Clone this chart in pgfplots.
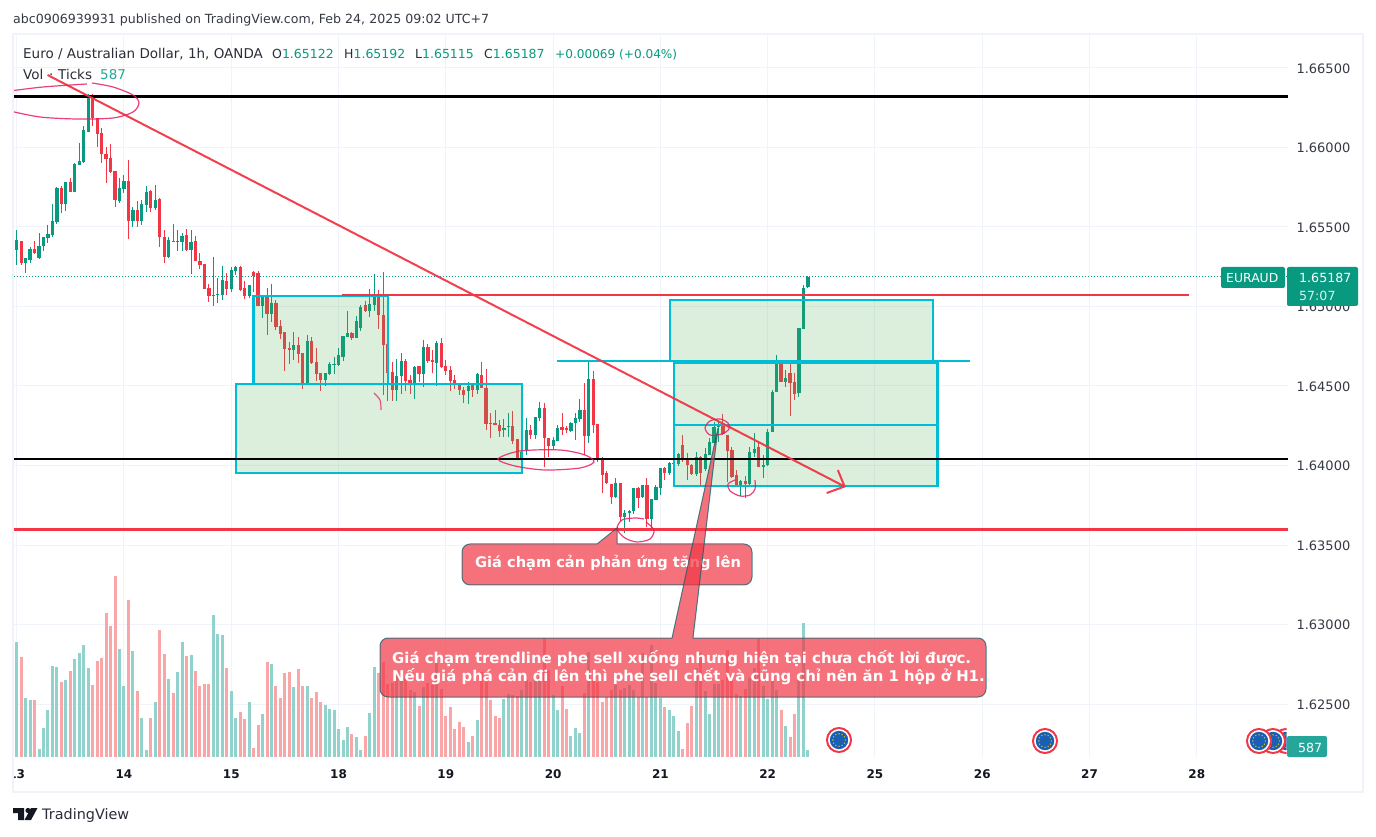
\documentclass[border=0pt]{standalone}
\usepackage{fontspec}
\setmainfont{DejaVu Sans}
\usepackage{pgfplots}
\usepackage{pgfplotstable}
\pgfplotsset{compat=1.18}
\definecolor{up}{HTML}{089981}
\definecolor{dn}{HTML}{F23645}
\definecolor{volup}{HTML}{92D2CC}
\definecolor{voldn}{HTML}{F9A6A9}
\definecolor{gridc}{HTML}{F0F3FA}
\definecolor{boxc}{HTML}{00BCD4}
\definecolor{boxf}{HTML}{4CAF50}
\definecolor{ink}{HTML}{131722}
\definecolor{pinkc}{HTML}{E91E63}
\definecolor{lastvol}{HTML}{26A69A}
\pgfplotstableread{
n bot top low high
-25 1.65331 1.65366 1.65331 1.65366
-24 1.65356 1.65419 1.65262 1.65482
-22 1.65276 1.65308 1.65213 1.65308
-21 1.65293 1.65360 1.65272 1.65377
-19 1.65308 1.65381 1.65304 1.65461
-18 1.65381 1.65436 1.65346 1.65436
-17 1.65431 1.65457 1.65402 1.65513
-16 1.65450 1.65540 1.65440 1.65645
-15 1.65532 1.65748 1.65519 1.65754
-13 1.65645 1.65781 1.65603 1.65781
-11 1.65723 1.65897 1.65723 1.65905
-10 1.65890 1.65914 1.65890 1.66027
-9 1.65907 1.66111 1.65901 1.66136
-8 1.66100 1.66310 1.66100 1.66335
-1 1.65662 1.65744 1.65649 1.65807
0 1.65740 1.65790 1.65712 1.65828
2 1.65540 1.65608 1.65503 1.65628
4 1.65540 1.65645 1.65513 1.65670
5 1.65639 1.65723 1.65597 1.65758
7 1.65618 1.65670 1.65608 1.65765
10 1.65310 1.65419 1.65304 1.65436
12 1.65408 1.65415 1.65352 1.65482
13 1.65408 1.65446 1.65352 1.65461
15 1.65356 1.65408 1.65205 1.65482
20 1.65069 1.65075 1.65000 1.65310
21 1.65073 1.65079 1.65025 1.65178
22 1.65073 1.65167 1.65042 1.65255
24 1.65111 1.65230 1.65094 1.65251
25 1.65225 1.65246 1.65198 1.65254
28 1.65066 1.65135 1.65051 1.65135
31 1.65005 1.65068 1.64929 1.65068
33 1.64952 1.65022 1.64904 1.65141
38 1.64726 1.64757 1.64663 1.64837
41 1.64506 1.64783 1.64506 1.64820
45 1.64537 1.64581 1.64500 1.64581
46 1.64575 1.64636 1.64569 1.64651
47 1.64632 1.64636 1.64573 1.64680
48 1.64632 1.64693 1.64625 1.64737
49 1.64682 1.64814 1.64657 1.64814
50 1.64806 1.64831 1.64806 1.64971
52 1.64802 1.64908 1.64802 1.64940
53 1.64862 1.64996 1.64848 1.65009
55 1.64971 1.65015 1.64931 1.65110
56 1.65009 1.65068 1.64971 1.65204
61 1.64475 1.64563 1.64405 1.64667
62 1.64563 1.64657 1.64449 1.64705
65 1.64510 1.64619 1.64418 1.64625
67 1.64575 1.64745 1.64495 1.64789
70 1.64644 1.64770 1.64500 1.64783
77 1.64468 1.64500 1.64387 1.64525
79 1.64475 1.64575 1.64449 1.64579
85 1.64223 1.64236 1.64181 1.64290
86 1.64244 1.64248 1.64181 1.64328
89 1.64041 1.64087 1.64013 1.64118
90 1.64097 1.64223 1.64066 1.64296
92 1.64192 1.64303 1.64166 1.64303
93 1.64299 1.64359 1.64280 1.64397
96 1.64122 1.64160 1.64101 1.64177
97 1.64156 1.64234 1.64156 1.64254
100 1.64219 1.64265 1.64213 1.64275
101 1.64265 1.64296 1.64160 1.64328
102 1.64290 1.64349 1.64275 1.64416
104 1.64187 1.64542 1.64143 1.64659
110 1.63804 1.63888 1.63793 1.63919
112 1.63678 1.63699 1.63578 1.63720
113 1.63699 1.63712 1.63647 1.63720
114 1.63714 1.63856 1.63693 1.63856
116 1.63804 1.63877 1.63793 1.63877
118 1.63666 1.63787 1.63594 1.63787
119 1.63783 1.63863 1.63783 1.63877
120 1.63860 1.63982 1.63814 1.63982
122 1.63951 1.64013 1.63940 1.64024
123 1.64009 1.64013 1.63992 1.64024
124 1.64009 1.64070 1.63997 1.64076
128 1.63946 1.64055 1.63934 1.64087
130 1.63976 1.64070 1.63967 1.64108
131 1.64066 1.64146 1.64066 1.64171
132 1.64139 1.64244 1.64139 1.64275
133 1.64240 1.64261 1.64150 1.64275
138 1.63871 1.63904 1.63808 1.63909
140 1.63884 1.64085 1.63867 1.64118
141 1.64076 1.64104 1.64055 1.64202
143 1.63992 1.64003 1.63919 1.64066
144 1.64003 1.64213 1.63997 1.64227
145 1.64213 1.64464 1.64213 1.64475
146 1.64464 1.64653 1.64464 1.64695
148 1.64527 1.64548 1.64496 1.64600
151 1.64454 1.64862 1.64433 1.64862
152 1.64858 1.65114 1.64858 1.65135
153 1.65122 1.65187 1.65115 1.65192
}\upcandles
\pgfplotstableread{
n bot top low high
-23 1.65276 1.65415 1.65262 1.65415
-20 1.65339 1.65360 1.65331 1.65415
-14 1.65645 1.65744 1.65587 1.65758
-12 1.65723 1.65781 1.65723 1.65807
-7 1.66184 1.66310 1.66132 1.66335
-6 1.66085 1.66184 1.66006 1.66184
-5 1.65960 1.66090 1.65905 1.66121
-4 1.65928 1.65960 1.65779 1.66006
-3 1.65846 1.65934 1.65838 1.66023
-2 1.65670 1.65851 1.65628 1.65851
1 1.65540 1.65790 1.65427 1.65922
3 1.65540 1.65608 1.65503 1.65664
6 1.65618 1.65729 1.65597 1.65733
8 1.65436 1.65679 1.65377 1.65685
9 1.65310 1.65436 1.65276 1.65482
11 1.65410 1.65415 1.65408 1.65519
14 1.65356 1.65450 1.65352 1.65486
16 1.65289 1.65415 1.65289 1.65444
17 1.65262 1.65289 1.65234 1.65335
18 1.65111 1.65268 1.65111 1.65268
19 1.65063 1.65117 1.65031 1.65140
23 1.65113 1.65161 1.65073 1.65209
26 1.65103 1.65250 1.65099 1.65254
27 1.65066 1.65116 1.65045 1.65160
29 1.65193 1.65214 1.65093 1.65223
30 1.65005 1.65208 1.65005 1.65223
32 1.64952 1.65068 1.64820 1.65114
34 1.64873 1.65022 1.64852 1.65040
35 1.64827 1.64877 1.64795 1.64915
36 1.64734 1.64837 1.64596 1.64837
37 1.64726 1.64739 1.64638 1.64774
39 1.64701 1.64757 1.64642 1.64808
40 1.64506 1.64709 1.64481 1.64709
42 1.64646 1.64783 1.64638 1.64806
43 1.64575 1.64651 1.64533 1.64739
44 1.64537 1.64581 1.64468 1.64581
51 1.64802 1.64833 1.64789 1.64839
54 1.64971 1.65007 1.64967 1.65032
57 1.64946 1.65068 1.64858 1.65103
58 1.64757 1.64946 1.64443 1.65217
59 1.64579 1.64764 1.64407 1.64789
60 1.64475 1.64588 1.64407 1.64651
63 1.64533 1.64657 1.64470 1.64669
64 1.64510 1.64537 1.64449 1.64569
66 1.64575 1.64625 1.64527 1.64625
68 1.64657 1.64745 1.64644 1.64764
69 1.64651 1.64663 1.64579 1.64726
71 1.64619 1.64770 1.64617 1.64799
72 1.64594 1.64625 1.64569 1.64663
73 1.64531 1.64600 1.64470 1.64625
74 1.64512 1.64537 1.64479 1.64569
75 1.64475 1.64512 1.64443 1.64517
76 1.64443 1.64475 1.64391 1.64495
78 1.64475 1.64504 1.64433 1.64512
80 1.64487 1.64569 1.64487 1.64651
81 1.64261 1.64487 1.64223 1.64607
82 1.64261 1.64267 1.64173 1.64328
83 1.64254 1.64267 1.64254 1.64349
84 1.64217 1.64254 1.64181 1.64286
87 1.64154 1.64248 1.64135 1.64342
88 1.64041 1.64166 1.64034 1.64166
91 1.64192 1.64223 1.64164 1.64254
94 1.64175 1.64359 1.63992 1.64391
95 1.64122 1.64171 1.64055 1.64171
98 1.64223 1.64240 1.64192 1.64328
99 1.64223 1.64234 1.64206 1.64248
103 1.64187 1.64349 1.64066 1.64517
105 1.64254 1.64542 1.64202 1.64594
106 1.64039 1.64259 1.64024 1.64259
107 1.63940 1.64043 1.63829 1.64055
108 1.63888 1.63951 1.63884 1.63967
109 1.63804 1.63884 1.63756 1.63884
111 1.63678 1.63888 1.63647 1.63888
115 1.63793 1.63856 1.63730 1.63867
117 1.63666 1.63877 1.63615 1.63919
121 1.63955 1.63984 1.63909 1.63992
125 1.64034 1.64127 1.64024 1.64192
126 1.64003 1.64039 1.63909 1.64076
127 1.63946 1.64003 1.63940 1.64009
129 1.63955 1.64055 1.63877 1.64060
134 1.64196 1.64254 1.64192 1.64324
135 1.64091 1.64192 1.63898 1.64192
136 1.63930 1.64097 1.63925 1.64118
137 1.63871 1.63940 1.63867 1.63971
139 1.63884 1.63904 1.63793 1.63934
142 1.63992 1.64114 1.63992 1.64150
147 1.64527 1.64659 1.64527 1.64663
149 1.64517 1.64579 1.64311 1.64653
150 1.64449 1.64523 1.64412 1.64579
}\downcandles
\pgfplotstableread{
n v
-25 10248
-24 9660
-22 4956
-21 4788
-19 672
-18 2436
-17 3948
-16 7644
-15 7560
-13 6468
-11 8232
-10 8736
-9 9408
-8 7476
-1 9072
0 5964
2 8904
4 3276
5 588
7 4620
10 6552
12 7140
13 9660
15 8568
20 11928
21 10332
22 10248
24 5544
25 3276
28 4620
31 3612
33 7812
38 5880
41 5964
45 4368
46 4032
47 3948
48 2352
49 1428
50 2520
52 1680
53 588
55 3696
56 7560
61 6888
62 6552
65 5460
67 5880
70 8148
77 1260
79 3108
85 4872
86 5292
89 5628
90 6468
92 6608
93 6748
96 5208
97 3948
100 1764
101 2436
102 2016
104 8848
110 6132
112 5796
113 6048
114 5628
116 8708
118 9380
119 6188
120 4984
122 3948
123 3444
124 2184
128 7448
130 5544
131 3612
132 6132
133 6132
138 5124
140 6608
141 7448
143 5964
144 4872
145 6468
146 5628
148 2604
151 6468
152 11256
153 587
}\upvol
\pgfplotstableread{
n v
-23 8400
-20 4788
-14 6300
-12 7224
-7 6048
-6 8064
-5 8316
-4 12096
-3 11004
-2 15204
1 13188
3 5544
6 3276
8 10668
9 8652
11 5376
14 8484
16 7224
17 5964
18 6132
19 6132
23 7476
26 3780
27 3192
29 756
30 2688
32 7980
34 5964
35 4956
36 7056
37 7140
39 7392
40 5964
42 4956
43 5460
44 4620
51 1932
54 1764
57 7056
58 7980
59 6132
60 6216
63 6608
64 5628
66 4284
68 6188
69 6048
71 5712
72 3444
73 4200
74 2352
75 2940
76 2520
78 1764
80 7168
81 6468
82 4788
83 3444
84 3276
87 5208
88 5124
91 6328
94 9968
95 7308
98 5964
99 4032
103 5348
105 6468
106 6328
107 4648
108 5068
109 5628
111 5628
115 5068
117 5068
121 4200
125 672
126 2856
127 4284
129 8708
134 6468
135 8988
136 6468
137 5292
139 5712
142 9912
147 3948
149 1680
150 3612
}\dnvol
\pgfplotsset{
  pane/.style={at={(14pt,79pt)},anchor=south west,width=1274pt,height=722pt,scale only axis,
    xmin=-24.6,xmax=260.4},
  candleplot/.style={draw=none,mark=none,forget plot},
}
\definecolor{flagblue}{HTML}{1B5FB5}
\usetikzlibrary{calc}
\newcommand{\flag}[2]{%
  \fill[white] (#1,#2) circle (12.6pt);
  \draw[dn,line width=2pt] (#1,#2) circle (12pt);
  \fill[white] (#1,#2) circle (10.5pt);
  \fill[flagblue] (#1,#2) circle (9.2pt);
  \foreach \a in {0,30,...,330}{\fill[yellow!85!orange] ($(#1,#2)+(\a:6.2pt)$) circle (0.7pt);}
}
\newcommand{\fs}[1]{\fontsize{#1}{#1}\selectfont}
\begin{document}
\begin{tikzpicture}
\fill[white] (0,0) rectangle (1376pt,836pt);
\path[use as bounding box] (0,0) rectangle (1376pt,836pt);
% grid and scales
\begin{axis}[pane,ymin=1.621667,ymax=1.667075,
  axis line style={draw=none},major tick length=0pt,
  xtick={-24,0,24,48,72,96,120,144,168,192,216,240},
  xticklabels={13,14,15,18,19,20,21,22,25,26,27,28},
  ytick={1.625,1.63,1.635,1.64,1.645,1.65,1.655,1.66,1.665},
  yticklabel pos=right,
  xmajorgrids,ymajorgrids,
  major grid style={draw=gridc,line width=1pt},
  /pgf/number format/assume math mode=true,
  /pgf/number format/fixed,/pgf/number format/fixed zerofill,
  /pgf/number format/precision=5,/pgf/number format/1000 sep={},
  yticklabel style={font=\fs{13},text=ink!85,anchor=west,xshift=5pt,yshift=-0.5pt},
  xticklabel style={font=\fs{12}\bfseries,text=ink,yshift=-9pt},
]
\addplot[draw=none,forget plot] coordinates {(0,1.64)};
\end{axis}
% volume
\begin{axis}[pane,ymin=0,ymax=60648,hide axis]
\addplot[ycomb,draw=volup,line width=3pt,mark=none] table[x=n,y=v] {\upvol};
\addplot[ycomb,draw=voldn,line width=3pt,mark=none] table[x=n,y=v] {\dnvol};
\end{axis}
% price
\begin{axis}[pane,ymin=1.621667,ymax=1.667075,hide axis]
\addplot[candleplot,error bars/.cd,y dir=both,y explicit,error mark=none,
  error bar style={draw=up,line width=1pt}]
  table[x=n,y=bot,y error plus expr=\thisrow{high}-\thisrow{bot},y error minus expr=\thisrow{bot}-\thisrow{low}] {\upcandles};
\addplot[candleplot,error bars/.cd,y dir=plus,y explicit,error mark=none,
  error bar style={draw=up,line width=3.2pt}]
  table[x=n,y=bot,y error plus expr=\thisrow{top}-\thisrow{bot}] {\upcandles};
\addplot[candleplot,error bars/.cd,y dir=both,y explicit,error mark=none,
  error bar style={draw=dn,line width=1pt}]
  table[x=n,y=bot,y error plus expr=\thisrow{high}-\thisrow{bot},y error minus expr=\thisrow{bot}-\thisrow{low}] {\downcandles};
\addplot[candleplot,error bars/.cd,y dir=plus,y explicit,error mark=none,
  error bar style={draw=dn,line width=3.2pt}]
  table[x=n,y=bot,y error plus expr=\thisrow{top}-\thisrow{bot}] {\downcandles};
% current price
\addplot[up,line width=1pt,dotted,forget plot] coordinates {(-24.6,1.65187)(260.4,1.65187)};
% boxes
\addplot[draw=boxc,line width=2.4pt,fill=boxf,fill opacity=0.2,draw opacity=1,forget plot] coordinates {(29,1.65066)(59,1.65066)(59,1.64512)(29,1.64512)} --cycle;
\addplot[draw=boxc,line width=2.4pt,fill=boxf,fill opacity=0.2,draw opacity=1,forget plot] coordinates {(25,1.64512)(89,1.64512)(89,1.63953)(25,1.63953)} --cycle;
\addplot[draw=boxc,line width=2.4pt,fill=boxf,fill opacity=0.2,draw opacity=1,forget plot] coordinates {(122.1,1.65041)(181,1.65041)(181,1.64657)(122.1,1.64657)} --cycle;
\addplot[draw=boxc,line width=2.4pt,fill=boxf,fill opacity=0.2,draw opacity=1,forget plot] coordinates {(123,1.64644)(182,1.64644)(182,1.64254)(123,1.64254)} --cycle;
\addplot[draw=boxc,line width=2.4pt,fill=boxf,fill opacity=0.2,draw opacity=1,forget plot] coordinates {(123,1.64254)(182,1.64254)(182,1.63871)(123,1.63871)} --cycle;
\addplot[boxc,line width=2pt,forget plot] coordinates {(96.8,1.64657)(189.2,1.64657)};
% levels
\addplot[dn,line width=2pt,forget plot] coordinates {(48.7,1.65072)(238.2,1.65072)};
\addplot[black,line width=3pt,forget plot] coordinates {(-24.6,1.66318)(260.4,1.66318)};
\addplot[black,line width=2pt,forget plot] coordinates {(-24.6,1.64041)(260.4,1.64041)};
\addplot[dn,line width=3pt,forget plot] coordinates {(-24.6,1.63600)(260.4,1.63600)};
% trend line with its arrow
\addplot[dn,line width=2pt,opacity=0.95,forget plot] coordinates {(-17.1,1.66456)(161.2,1.63868)};
\addplot[dn,line width=2pt,opacity=0.95,forget plot] coordinates {(157.2,1.63827)(161.2,1.63868)(159.7,1.63971)};
\end{axis}
\begin{scope}[x=1pt,y=-1pt,yshift=836pt]
% masks and frame
\fill[white] (0,760) rectangle (13,795);
\draw[gridc,line width=2pt] (13,34) rectangle (1363,792);
% header and legend
\node[anchor=base west,inner sep=0,text=ink!85,font=\fs{12.6}] at (13,24) {abc0906939931 published on TradingView.com, Feb 24, 2025 09:02 UTC+7};
\begin{scope}[every node/.style={anchor=base west,inner sep=0,text=ink!90,font=\fs{12.5}}]
\node[font=\fs{13.5}] at (23,59) {Euro / Australian Dollar, 1h, OANDA};
\node at (272,59) {O\textcolor{up}{1.65122}};
\node at (344,59) {H\textcolor{up}{1.65192}};
\node at (415,59) {L\textcolor{up}{1.65115}};
\node at (484,59) {C\textcolor{up}{1.65187}};
\node[font=\fs{12.1}] at (555,59) {\textcolor{up}{+0.00069 (+0.04\%)}};
\node[font=\fs{13.5}] at (23,80) {Vol};
\node[font=\fs{13.5}] at (49,80) {·};
\node[font=\fs{13.5}] at (58,80) {Ticks};
\node[font=\fs{13.5}] at (100,80) {\textcolor{lastvol}{587}};
\end{scope}
% hand-drawn marks
\begin{scope}
\clip (14,35) rectangle (1288,757);
\draw[pinkc,line width=1.2pt,opacity=.85] plot[smooth] coordinates {(10,91)(43,87)(87,84)};
\draw[pinkc,line width=1.2pt,opacity=.85] plot[smooth] coordinates {(92,83)(113,87)(133,95)(139,103)(133,112)(113,118)(77,119)(40,117)(10,111)};
\draw[pinkc,line width=1.2pt,opacity=.85] plot[smooth cycle] coordinates {(498,459)(520,451)(560,450)(585,455)(594,462)(580,468)(545,470)(515,466)};
\draw[pinkc,line width=1.2pt,opacity=.85] plot[smooth] coordinates {(644,519)(635,518)(622,520)(617,529)(625,538)(637,542)(650,539)(654,530)(646,522)};
\draw[pinkc,line width=1.2pt,opacity=.85] plot[smooth cycle] coordinates {(705,428)(710,421)(720,419)(728,423)(729,429)(722,434)(710,435)};
\draw[pinkc,line width=1.2pt,opacity=.85] plot[smooth] coordinates {(735,480)(728,484)(730,491)(740,496)(750,495)(755,489)(755,480)};
\draw[pinkc,line width=1.2pt,opacity=.75] plot[smooth] coordinates {(374,393)(380,400)(381,410)};
\end{scope}
% flags
\flag{839}{740}
\flag{1045}{741}
\begin{scope}
\clip (1200,720) rectangle (1286.5,760);
\flag{1286}{741}
\flag{1273}{741}
\flag{1259}{741}
\end{scope}
% price labels
\fill[up,rounded corners=2pt] (1221,267) rectangle (1285,288);
\fill[up,rounded corners=2pt] (1287,267) rectangle (1358,306);
\fill[lastvol,rounded corners=2pt] (1287,736) rectangle (1327,757);
\node[anchor=base west,inner sep=0,text=white,font=\fs{12.4}] at (1226,283) {EURAUD};
\node[anchor=base west,inner sep=0,text=white,font=\fs{12.6}] at (1299,283) {1.65187};
\node[anchor=base west,inner sep=0,text=white!85!up,font=\fs{12.6}] at (1299,301) {57:07};
\node[anchor=base west,inner sep=0,text=white,font=\fs{12.6}] at (1298,752) {587};
% callouts
\filldraw[fill=dn,fill opacity=.7,draw=boxc!50!black,draw opacity=.7,line width=1pt,rounded corners=8pt]
  (462,565) -- (462,544) [sharp corners] -- (597,544) -- (617,528) -- (617,544) [rounded corners=8pt] -- (752,544) -- (752,585) -- (462,585) -- cycle;
\node[anchor=base west,inner sep=0,text=white,font=\fs{14.6}\bfseries] at (475,568) {Giá chạm cản phản ứng tăng lên};
\filldraw[fill=dn,fill opacity=.7,draw=boxc!50!black,draw opacity=.7,line width=1pt,rounded corners=8pt]
  (380,668) -- (380,638) [sharp corners] -- (672,638) -- (718,428) -- (693,638) [rounded corners=8pt] -- (986,638) -- (986,697) -- (380,697) -- cycle;
\node[anchor=base west,inner sep=0,text=white,font=\fs{14.9}\bfseries] at (392,663) {Giá chạm trendline phe sell xuống nhưng hiện tại chưa chốt lời được.};
\node[anchor=base west,inner sep=0,text=white,font=\fs{14.9}\bfseries] at (392,681) {Nếu giá phá cản đi lên thì phe sell chết và cũng chỉ nên ăn 1 hộp ở H1.};
% logo
\fill[ink] (13,808) -- (24,808) -- (24,820) -- (18,820) -- (18,813) -- (13,813) -- cycle;
\fill[ink] (28,810.5) circle (2.6pt);
\fill[ink] (31,808) -- (37.5,808) -- (31,820) -- (24.5,820) -- cycle;
\node[anchor=base west,inner sep=0,text=ink!90,font=\fs{14.4}] at (42,819) {TradingView};
\end{scope}
\end{tikzpicture}
\end{document}
